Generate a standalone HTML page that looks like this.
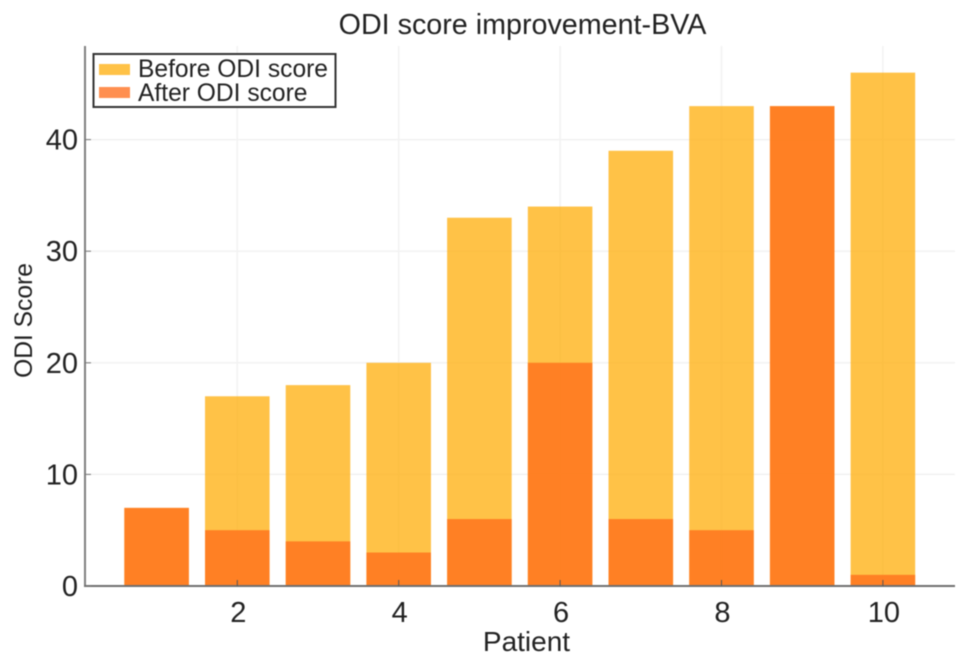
<!DOCTYPE html>
<html>
<head>
<meta charset="utf-8">
<title>ODI score improvement-BVA</title>
<style>
html,body{margin:0;padding:0;background:#fff;width:969px;height:665px;overflow:hidden}
svg{display:block;filter:blur(0.6px)}
text{font-family:"Liberation Sans",Arial,sans-serif;fill:#222}
</style>
</head>
<body>
<svg id="chart" xmlns="http://www.w3.org/2000/svg" width="969" height="665" viewBox="0 0 969 665">
  <text x="522.5" y="34" font-size="28.7" text-anchor="middle">ODI score improvement-BVA</text>
  <g id="grid"></g>
  <g id="before-bars"></g>
  <g id="after-bars"></g>
  <g id="axes"></g>
  <text x="526.5" y="651" font-size="28" text-anchor="middle">Patient</text>
  <text transform="translate(32,320.5) rotate(-90)" font-size="24.6" text-anchor="middle">ODI Score</text>
  <g>
    <rect x="93.5" y="54" width="242" height="53" fill="#fff" stroke="#333" stroke-width="2"/>
    <rect x="99" y="64" width="31" height="11" fill="rgb(255,171,0)" fill-opacity="0.72"/>
    <text x="138" y="77" font-size="24.6">Before ODI score</text>
    <rect x="99" y="87" width="31" height="11" fill="rgb(255,108,25)" fill-opacity="0.76"/>
    <text x="138" y="101" font-size="24.6">After ODI score</text>
  </g>
</svg>
<script>
var patients = [1, 2, 3, 4, 5, 6, 7, 8, 9, 10];
var beforeScores = [7, 17, 18, 20, 33, 34, 39, 43, 43, 46];
var afterScores = [7, 5, 4, 3, 6, 20, 6, 5, 43, 1];
var xTicks = [2, 4, 6, 8, 10];
var yTicks = [0, 10, 20, 30, 40];

var NS = 'http://www.w3.org/2000/svg';
function xScale(v) { return 237.3 + (v - 2) * 80.7; }
function yScale(v) { return 586 - v * 11.16; }
var barWidth = 0.8;

function make(tag, attrs, parent) {
  var el = document.createElementNS(NS, tag);
  for (var k in attrs) { el.setAttribute(k, attrs[k]); }
  parent.appendChild(el);
  return el;
}

var grid = document.getElementById('grid');
var axes = document.getElementById('axes');
var beforeGroup = document.getElementById('before-bars');
var afterGroup = document.getElementById('after-bars');

xTicks.forEach(function (t) {
  var line = make('line', {x1: xScale(t), x2: xScale(t), y1: 46, y2: 586, stroke: '#f2f2f2', 'stroke-width': 1.5}, grid);
  
  
});
yTicks.slice(1).forEach(function (t) {
  var line = make('line', {x1: 85, x2: 955, y1: yScale(t), y2: yScale(t), stroke: '#f2f2f2', 'stroke-width': 1.5}, grid);
  
  
});

function drawBars(values, group, fill, opacity, name) {
  patients.forEach(function (p, i) {
    var left = xScale(p - barWidth / 2);
    var right = xScale(p + barWidth / 2);
    var bar = make('rect', {x: left, y: yScale(values[i]), width: right - left, height: yScale(0) - yScale(values[i]), fill: fill, 'fill-opacity': opacity}, group);
    
    
  });
}
drawBars(beforeScores, beforeGroup, 'rgb(255,171,0)', 0.72, 'bar-before');
drawBars(afterScores, afterGroup, 'rgb(255,108,25)', 0.76, 'bar-after');

var yAxisLine = make('line', {x1: 85, x2: 85, y1: 46, y2: 587, stroke: '#7f7f7f', 'stroke-width': 2}, axes);


var xAxisLine = make('line', {x1: 84, x2: 955, y1: 586, y2: 586, stroke: '#6f6f6f', 'stroke-width': 2}, axes);



xTicks.forEach(function (t) {
  var tick = make('line', {x1: xScale(t), x2: xScale(t), y1: 586, y2: 580, stroke: '#555', 'stroke-width': 1}, axes);
  
  
  var label = make('text', {x: xScale(t) + 1, y: 622, 'font-size': 29, 'text-anchor': 'middle'}, axes);
  
  
  label.textContent = t;
});
yTicks.forEach(function (t) {
  var tick = make('line', {x1: 85, x2: 91, y1: yScale(t), y2: yScale(t), stroke: '#777', 'stroke-width': 1}, axes);
  
  
  var label = make('text', {x: 78, y: yScale(t) + 10, 'font-size': 29, 'text-anchor': 'end'}, axes);
  
  
  label.textContent = t;
});
</script>
</body>
</html>
